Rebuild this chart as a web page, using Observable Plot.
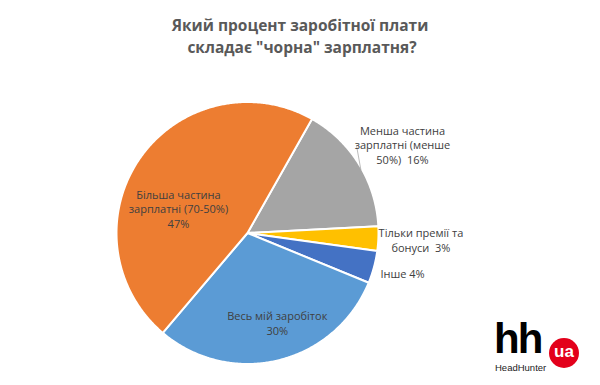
<!DOCTYPE html>
<html><head><meta charset="utf-8">
<script src="https://cdn.jsdelivr.net/npm/d3@7"></script>
<script src="https://cdn.jsdelivr.net/npm/@observablehq/plot@0.6"></script>
<style>
body{margin:0;background:#fff;width:600px;height:385px;overflow:hidden;position:relative;font-family:"Open Sans",sans-serif}
#title{height:70px;box-sizing:border-box;padding-top:14px;text-align:center;font-weight:700;color:#595959;font-size:15.5px;line-height:22px}
#chart svg{display:block}
#logo{position:absolute;left:494px;top:318px;width:100px;height:60px}
#logo .hh{position:absolute;left:0;top:0;font-family:"Liberation Sans",Arial,sans-serif;font-weight:700;font-size:42px;letter-spacing:-2px;color:#000;line-height:42px}
#logo .ua{position:absolute;left:55px;top:20px;width:30px;height:30px;border-radius:50%;background:#e3001b;color:#fff;font-family:"Liberation Sans",Arial,sans-serif;font-weight:700;font-size:17px;line-height:27px;text-align:center}
#logo .hhname{position:absolute;left:1px;top:44px;font-family:"Liberation Sans",Arial,sans-serif;font-size:9.5px;color:#222}
</style></head><body>
<div id="title">Який процент заробітної плати<br>&nbsp;складає "чорна" зарплатня?</div>
<div id="chart"></div>
<div id="logo"><span class="hh">hh</span><span class="ua">ua</span><span class="hhname">HeadHunter</span></div>
<script>
// Data (clockwise order starting from the gray slice)
const categories = ["Менша частина", "Тільки премії та бонуси", "Інше", "Весь мій заробіток", "Більша частина"];
const values = [16, 3, 4, 30, 47];
const labels = [
  "Менша частина\nзарплатні (менше\n50%)  16%",
  "Тільки премії та\nбонуси  3%",
  "Інше 4%",
  "Весь мій заробіток\n30%",
  "Більша частина\nзарплатні (70-50%)\n47%"
];
const colors = ["#A5A5A5", "#FFC000", "#4472C4", "#5B9BD5", "#ED7D31"];

// Layout (separate from the data)
const startDeg = 29.5;
const labelLayout = [
  {x: 1.183, y: 0.676, anchor: "middle"},
  {x: 1.324, y: -0.053, anchor: "middle"},
  {x: 1.015, y: -0.307, anchor: "start"},
  {x: 0.227, y: -0.687, anchor: "middle"},
  {x: -0.527, y: 0.187, anchor: "middle"}
];
const leader = [{x1: 0.832, y1: 0.668, x2: 0.866, y2: 0.48}];

const start = startDeg * Math.PI / 180;
const arcs = d3.pie().sort(null).startAngle(start).endAngle(start + 2 * Math.PI)(values);
const poly = [];
arcs.forEach((a, i) => {
  const cat = categories[i];
  poly.push({cat, x: 0, y: 0});
  const n = Math.max(4, Math.ceil((a.endAngle - a.startAngle) / (Math.PI / 360)));
  for (let k = 0; k <= n; k++) {
    const t = a.startAngle + (a.endAngle - a.startAngle) * k / n;
    poly.push({cat, x: Math.sin(t), y: Math.cos(t)});
  }
  poly.push({cat, x: 0, y: 0});
});
const labelData = categories.map((c, i) => ({cat: c, text: labels[i], ...labelLayout[i]}));

const chart = Plot.plot({
  width: 600,
  height: 315,
  marginLeft: 116,
  marginRight: 222,
  marginTop: 31.5,
  marginBottom: 21.5,
  x: {domain: [-1, 1], axis: null},
  y: {domain: [-1, 1], axis: null},
  color: {domain: categories, range: colors},
  style: {fontFamily: "'Open Sans', sans-serif", background: "#fff"},
  marks: [
    Plot.line(poly, {x: "x", y: "y", z: "cat", fill: "cat", stroke: "#fff", strokeWidth: 2, strokeLinejoin: "round"}),
    Plot.link(leader, {x1: "x1", y1: "y1", x2: "x2", y2: "y2", stroke: "#a6a6a6", strokeWidth: 0.75}),
    Plot.text(labelData.filter(d => d.anchor === "middle"), {x: "x", y: "y", text: "text", textAnchor: "middle", fill: "#404040", fontSize: 11, lineHeight: 1.32}),
    Plot.text(labelData.filter(d => d.anchor === "start"), {x: "x", y: "y", text: "text", textAnchor: "start", fill: "#404040", fontSize: 11, lineHeight: 1.32})
  ]
});
document.getElementById("chart").appendChild(chart);
</script>
</body></html>
